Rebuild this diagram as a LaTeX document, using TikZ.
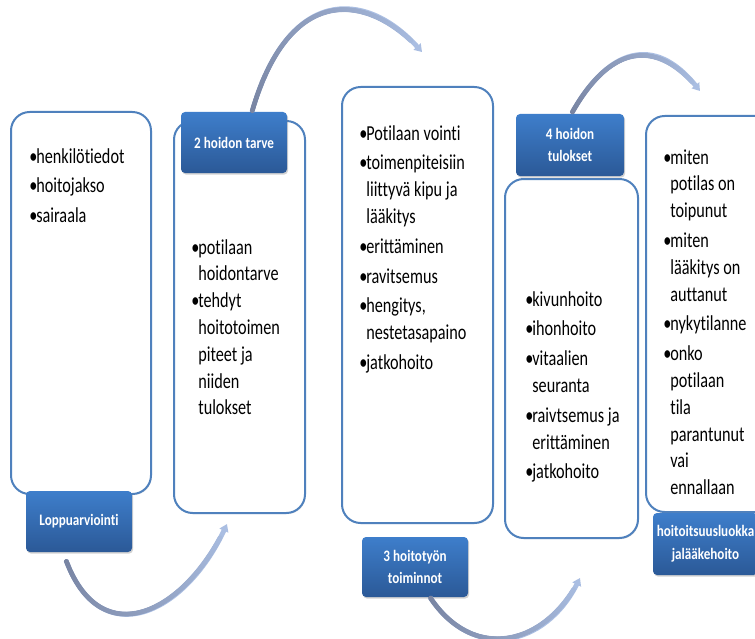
\documentclass[tikz,border=0pt]{standalone}
\usepackage{fontspec}
\setmainfont{Carlito}
\newfontfamily\bodyfont[FakeStretch=0.76,Ligatures=NoCommon]{Carlito}
\newfontfamily\labfont[FakeStretch=0.82,Ligatures=NoCommon]{Carlito}
\usetikzlibrary{arrows.meta,calc,shadows,decorations.markings}
\definecolor{boxline}{RGB}{79,129,189}
\definecolor{labtop}{RGB}{62,126,203}
\definecolor{labbot}{RGB}{43,89,151}
\definecolor{arrstart}{RGB}{120,132,162}
\definecolor{arrend}{RGB}{170,190,226}
\newcommand\bl{\makebox[5.3pt][l]{•}}
\newcommand\ct{\hspace*{5.3pt}}
\newcommand\ig{\\[2.25pt]}
\newcommand\bodysetup{\bodyfont\fontsize{16pt}{20.1pt}\selectfont\spaceskip 2.8pt\relax}
\newcommand\labsetup{\labfont\bfseries\fontsize{12pt}{17pt}\selectfont\spaceskip 2.4pt\relax}
\tikzset{
  textbox/.style={draw=boxline, line width=1.5pt, fill=white, rounded corners=14pt, inner sep=0pt,
    drop shadow={opacity=0.2, shadow xshift=0.6pt, shadow yshift=-0.9pt}},
  labelbox/.style={rounded corners=3pt, top color=labtop, bottom color=labbot, inner sep=0pt,
    text=white, font=\labsetup, align=flush center,
    minimum width=79.5pt, minimum height=45.75pt,
    drop shadow={opacity=0.35, shadow xshift=0.8pt, shadow yshift=-1.2pt}},
  bodytext/.style={anchor=base west, inner sep=0pt, text width=125pt, align=flush left,
    font=\bodysetup},
  flowbase/.style={line width=3.6pt, draw=arrend, -{Triangle[width=7pt,length=5.5pt]}},
  flowgrad/.style={decorate, decoration={markings,
    mark=between positions 0.005 and 0.93 step 0.7pt with {%
      \pgfmathsetmacro\gp{\pgfkeysvalueof{/pgf/decoration/mark info/distance from start}/\pgfdecoratedpathlength*100}%
      \fill[arrend!\gp!arrstart] (0,0) circle (1.8pt);}}}
}
\newcommand\flowarrow[1]{\draw[flowbase] #1; \path[flowgrad] #1;}
\begin{document}
\begin{tikzpicture}[x=0.75pt,y=-0.75pt]
\useasboundingbox (0,0) rectangle (755,638);
\fill[white] (0,0) rectangle (755,638);
\clip (0,0) rectangle (755,638);

% boxes
\node[textbox, minimum width=105pt, minimum height=286.5pt] (b1) at (81,303) {};
\node[textbox, minimum width=98.25pt, minimum height=294pt] (b2) at (239.5,317) {};
\node[textbox, minimum width=113.25pt, minimum height=327pt] (b3) at (417.5,305) {};
\node[textbox, minimum width=99.75pt, minimum height=269.25pt] (b4) at (571.5,358.5) {};
\node[textbox, minimum width=108pt, minimum height=297pt] (b5) at (718,314) {};

% texts
\node[bodytext] (t1) at (29,163) {\bl henkilötiedot\ig \bl hoitojakso\ig \bl sairaala};
\node[bodytext] (t2) at (191,254) {\bl potilaan\\ \ct hoidontarve\\ \bl tehdyt\\ \ct hoitotoimen\\ \ct piteet ja\\ \ct niiden\\ \ct tulokset};
\node[bodytext] (t3) at (359,140) {\bl Potilaan vointi\ig \bl toimenpiteisiin\\ \ct liittyvä kipu ja\\ \ct lääkitys\ig \bl erittäminen\ig \bl ravitsemus\ig \bl hengitys,\\ \ct nestetasapaino\ig \bl jatkohoito};
\node[bodytext] (t4) at (525,306) {\bl kivunhoito\ig \bl ihonhoito\ig \bl vitaalien\\ \ct seuranta\ig \bl raivtsemus ja\\ \ct erittäminen\ig \bl jatkohoito};
\node[bodytext] (t5) at (663,164) {\bl miten\\ \ct potilas on\\ \ct toipunut\ig \bl miten\\ \ct lääkitys on\\ \ct auttanut\ig \bl nykytilanne\ig \bl onko\\ \ct potilaan\\ \ct tila\\ \ct parantunut\\ \ct vai\\ \ct ennallaan};

% labels
\node[labelbox] (L1) at (79,521.5) {Loppuarviointi};
\node[labelbox] (L2) at (234,142.5) {2 hoidon tarve};
\node[labelbox, minimum height=45pt] (L3) at (415,567) {3 hoitotyön\\toiminnot};
\node[labelbox, minimum width=81pt, minimum height=46.5pt] (L4) at (570,145) {4 hoidon\\tulokset};
\node[labelbox, minimum width=78.75pt, minimum height=46.5pt] (L5) at (705.5,544) {hoitoitsuusluokka\\jalääkehoito};

% arrow end points
\coordinate (a1s) at ($(L1.south)+(-13,8)$);
\coordinate (a1e) at ($(b2.south)+(-12.5,10)$);
\coordinate (a2s) at ($(L2.north)+(18,0)$);
\coordinate (a2e) at ($(b3.north)+(4.5,-34)$);
\coordinate (a3s) at ($(L3.south)+(15,0)$);
\coordinate (a3e) at ($(b4.south)+(8.5,39)$);
\coordinate (a4s) at ($(L4.north)+(2,-1)$);
\coordinate (a4e) at ($(b5.north)+(-18,-24)$);

\flowarrow{(a1s) .. controls +(35,94) and +(-42,90) .. (a1e)}
\flowarrow{(a2s) .. controls +(36,-125) and +(-57,-63) .. (a2e)}
\flowarrow{(a3s) .. controls +(43,65) and +(-35,69) .. (a3e)}
\flowarrow{(a4s) .. controls +(36,-64) and +(-46,-57) .. (a4e)}
\end{tikzpicture}
\end{document}
